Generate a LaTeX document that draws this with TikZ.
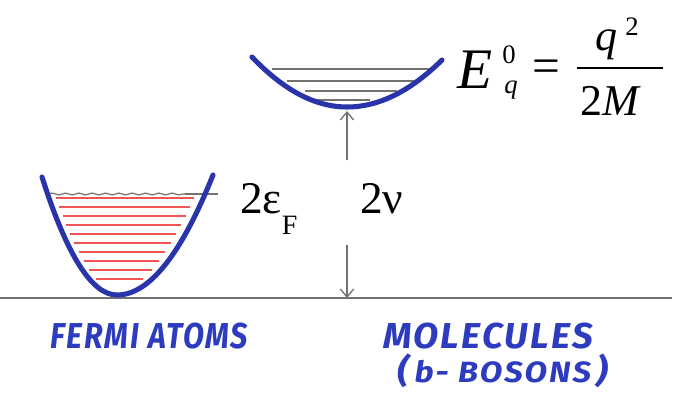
\documentclass[tikz,border=0pt]{standalone}
\usepackage{fontspec}
\usepackage{graphicx}
\setmainfont{Liberation Serif}
\newfontfamily\handfont{Fira Sans}[LetterSpace=6]
\usetikzlibrary{arrows.meta,decorations.pathmorphing}
\definecolor{penblue}{RGB}{42,52,170}
\definecolor{inkblue}{RGB}{45,60,190}
\definecolor{pencil}{RGB}{115,115,110}
\definecolor{redpen}{RGB}{240,85,85}
\tikzset{
  well/.style={penblue,line width=3.8pt,line cap=round},
  level/.style={pencil,line width=0.9pt},
  filled/.style={redpen,line width=0.8pt},
  gap/.style={pencil,line width=1pt,-{Straight Barb[length=6pt,width=10pt]}},
  hand/.style={inkblue,inner sep=0pt,anchor=base west,font=\handfont\bfseries\itshape\fontsize{27}{32}\selectfont},
  big/.style={inner sep=0pt,anchor=base west,font=\fontsize{34}{40}\selectfont},
  small/.style={inner sep=0pt,anchor=base west,font=\fontsize{20}{24}\selectfont},
}
\begin{document}
\begin{tikzpicture}[x=0.75pt,y=-0.75pt]
\useasboundingbox (0,0) rectangle (675,393);
% ground line
\coordinate (gndL) at (0,298);
\coordinate (gndR) at (672,298);
\draw[pencil,line width=1pt] (gndL) -- (gndR);
% fermi atoms
\foreach \h in {198,207,...,279} {
  \pgfmathsetmacro\xl{117-75*sqrt((295-\h)/118)+7}
  \pgfmathsetmacro\xr{117+96*sqrt((295-\h)/120)-9}
  \draw[filled] (\xl,\h) -- (\xr,\h);
}
\draw[level,decorate,decoration={snake,amplitude=0.7pt,segment length=10pt}] (48,194) -- (185,194);
\draw[level] (185,194) -- (218,194);
\draw[well] (42,177) .. controls (67,255.7) and (92,295) .. (117,295)
  .. controls (149,295) and (181,255) .. (213,175);
% molecules
\foreach \a/\b/\h in {272/430/69,287/415/81,305/397/91,312/370/100}
  \draw[level] (\a,\h) -- (\b,\h);
\draw[well] (252,57) .. controls (283.7,90.3) and (315.3,107) .. (347,107)
  .. controls (378.7,107) and (410.3,91.3) .. (442,60);
\coordinate (molmin) at (347,111);
\coordinate (gapTop) at (347,160);
\coordinate (gapBot) at (347,245);
\coordinate (gnd) at (347,298);
\draw[gap] (gapTop) -- (molmin);
\draw[gap] (gapBot) -- (gnd);
\node[big] (fermiGap) at (240,213) {2ε\raisebox{-16pt}{\fontsize{21}{24}\selectfont F}};
\node[big] (bindGap) at (360,213) {2ν};
% kinetic energy
\node[big,font=\itshape\fontsize{43}{50}\selectfont] (eq) at (457,88) {E};
\node[small] (eqSup) at (502,63) {0};
\node[small,font=\itshape\fontsize{20}{24}\selectfont] (eqSub) at (504,93) {q};
\node[inner sep=0pt,font=\fontsize{37}{44}\selectfont] (eqSign) at (546,71) {=};
\coordinate (barL) at (577,68);
\coordinate (barR) at (663,68);
\draw[line width=1.5pt] (barL) -- (barR);
\node[big,font=\itshape\fontsize{33}{40}\selectfont] (num) at (595,50) {q};
\node[small] (numSup) at (625,35) {2};
\node[big,font=\fontsize{33}{40}\selectfont] (den) at (580,115) {2\textit{M}};
% hand labels
\node[hand] (atoms) at (50,348) {\scalebox{0.85}[1]{FERMI ATOMS}};
\node[hand] (mols) at (383,348) {\scalebox{1.02}[1]{MOLECULES}};
\node[hand,font=\handfont\bfseries\itshape\fontsize{22}{26}\selectfont] (bosons) at (397,382)
  {\scalebox{1.12}[1]{{\fontsize{25}{28}\selectfont(}\,b- BOSONS\,{\fontsize{25}{28}\selectfont)}}};
\end{tikzpicture}
\end{document}
